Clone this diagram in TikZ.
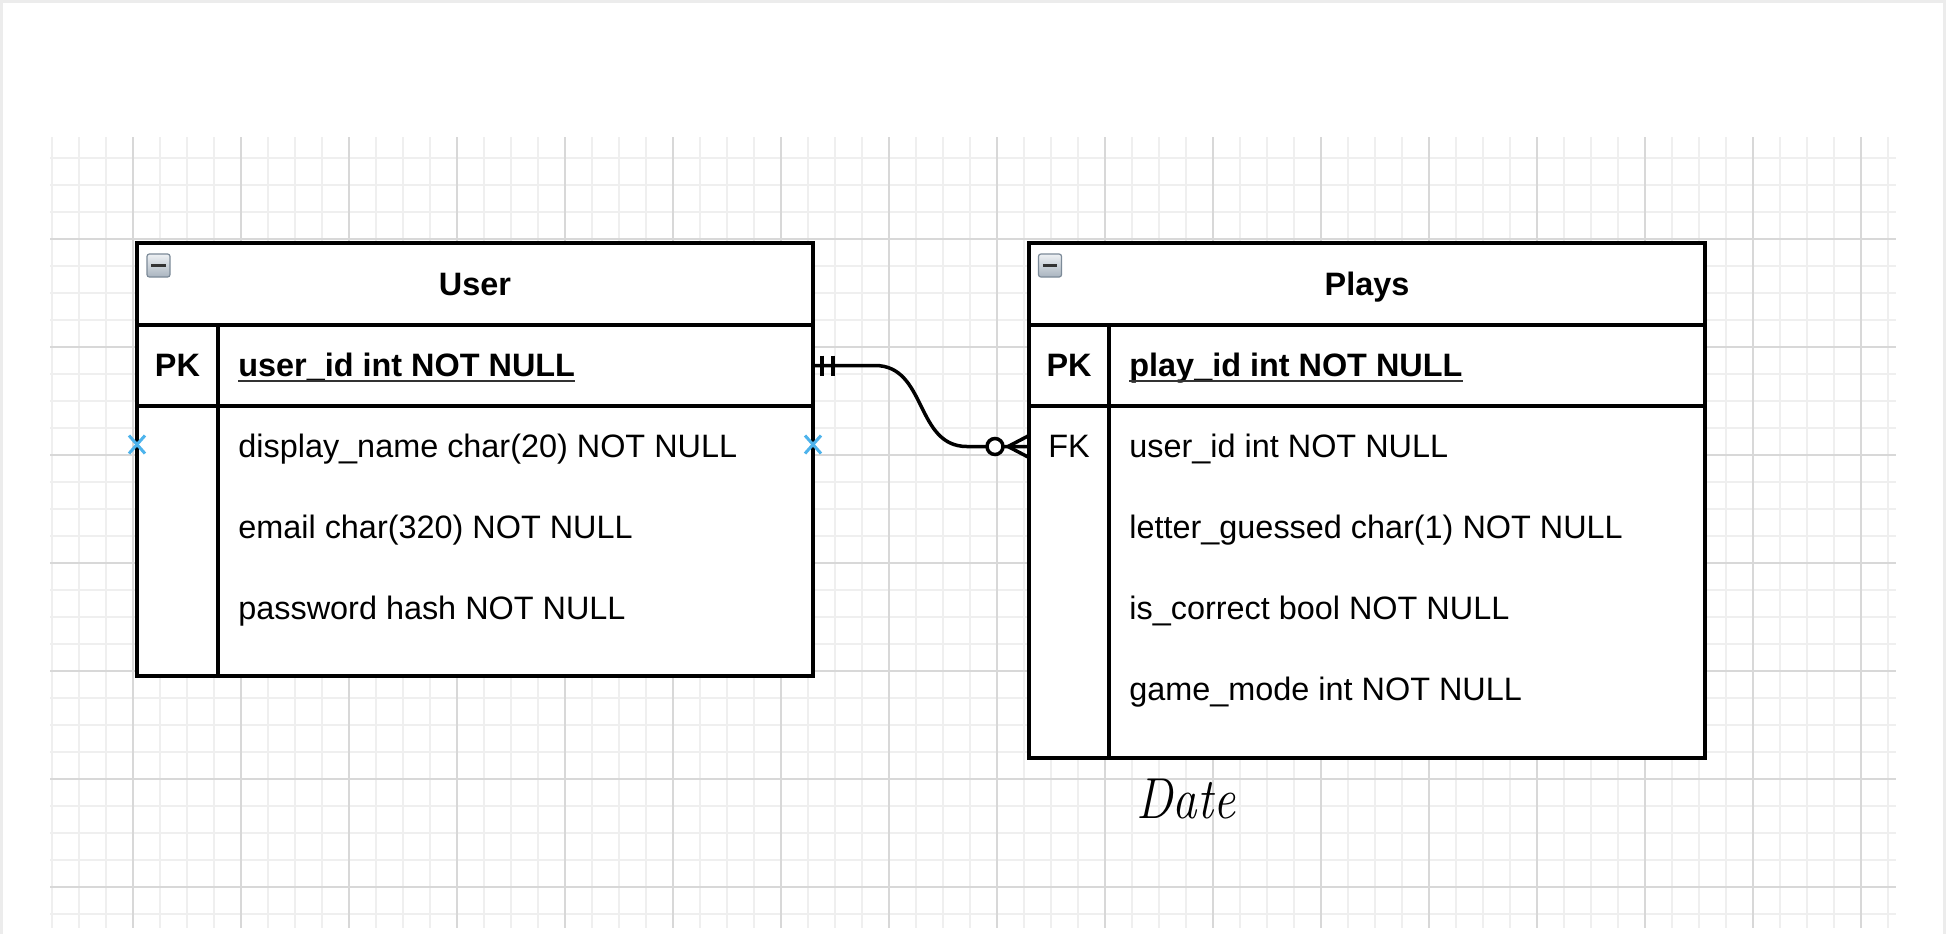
\documentclass[tikz,border=0pt]{standalone}
\usepackage{fontspec}
\newfontfamily\arial{Liberation Sans}
\usetikzlibrary{calc}
\definecolor{minorgrid}{HTML}{EFEFEF}
\definecolor{majorgrid}{HTML}{D8D8D8}
\definecolor{pageframe}{HTML}{ECECEC}
\definecolor{xblue}{HTML}{4DB3EC}
\definecolor{iconedge}{HTML}{7C8A98}
\definecolor{icontop}{HTML}{EEF1F4}
\definecolor{iconbot}{HTML}{A9B4BF}
\tikzset{
  tablebox/.style={draw=black, line width=1.7pt, fill=white, inner sep=0pt, outer sep=0pt, minimum width=338pt},
  tableline/.style={draw=black, line width=1.7pt},
  rowbox/.style={inner sep=0pt, outer sep=0pt, minimum width=338pt, minimum height=40.5pt},
  fieldtxt/.style={anchor=base west, inner sep=0pt, font=\arial\fontsize{16.2}{19}\selectfont},
  pktxt/.style={anchor=base west, inner sep=0pt, font=\arial\fontsize{16.2}{19}\selectfont\bfseries},
  keytxt/.style={anchor=base, inner sep=0pt, font=\arial\fontsize{16.2}{19}\selectfont\bfseries},
  fktxt/.style={anchor=base, inner sep=0pt, font=\arial\fontsize{16.2}{19}\selectfont},
  titletxt/.style={anchor=base, inner sep=0pt, font=\arial\fontsize{16.2}{19}\selectfont\bfseries},
  uline/.style={draw=black!80, line width=0.9pt},
  conn/.style={draw=black, line width=1.75pt},
  xmark/.style={draw=xblue, line width=1.5pt},
  minusicon/.style={draw=iconedge, line width=0.6pt, top color=icontop, bottom color=iconbot,
    rounded corners=1.2pt, minimum size=11.5pt, inner sep=0pt, outer sep=0pt,
    path picture={\draw[line width=1.6pt, black!80] ([xshift=-3.6pt]path picture bounding box.center) -- ([xshift=3.6pt]path picture bounding box.center);}},
  minorline/.style={draw=minorgrid, line width=1pt},
  majorline/.style={draw=majorgrid, line width=1.2pt},
  datetxt/.style={anchor=base west, inner sep=0pt, font=\rmfamily\itshape\fontsize{24.5}{29}\selectfont, yscale=1.18}
}
\begin{document}
\begin{tikzpicture}[x=0.5pt, y=-0.5pt]
\useasboundingbox (0,0) rectangle (1946,934);
\fill[white] (0,0) rectangle (1946,934);
% page frame
\draw[pageframe, line width=1.5pt] (1,934) -- (1,1.5) -- (1944.5,1.5) -- (1944.5,934);
% grid
\foreach \i in {0,...,68} { \draw[minorline] ({52+27*\i},137) -- ({52+27*\i},928); }
\foreach \j in {0,...,28} { \draw[minorline] (50,{158+27*\j}) -- (1896,{158+27*\j}); }
\foreach \i in {0,...,16} { \draw[majorline] ({133+108*\i},137) -- ({133+108*\i},928); }
\foreach \j in {0,...,6} { \draw[majorline] (50,{239+108*\j}) -- (1896,{239+108*\j}); }

% ---------- User table ----------
\node[tablebox, minimum height=216.5pt] (user) at (475,459.5) {};
\draw[tableline] (137,325) -- (813,325);
\draw[tableline] (137,406) -- (813,406);
\draw[tableline] (218,325) -- (218,676);
\node[minusicon] (usericon) at (158.5,265.5) {};
\node[titletxt] (usertitle) at (475,295) {User};
\node[rowbox] (userpk) at (475,365.5) {};
\node[rowbox] (userr1) at (475,446.5) {};
\node[rowbox] (userr2) at (475,527.5) {};
\node[rowbox] (userr3) at (475,608.5) {};
\node[keytxt] (userpkkey) at (177.5,376.5) {PK};
\node[pktxt] (userpkname) at (238,376.5) {user\_id int NOT NULL};
\draw[uline] ([yshift=-2.3pt]userpkname.base west) -- ([yshift=-2.3pt]userpkname.base east);
\node[fieldtxt] (userf1) at (238,457.5) {display\_name char(20) NOT NULL};
\node[fieldtxt] (userf2) at (238,538.5) {email char(320) NOT NULL};
\node[fieldtxt] (userf3) at (238,619.5) {password hash NOT NULL};

% ---------- Plays table ----------
\node[tablebox, minimum height=257.5pt] (plays) at (1367,500.5) {};
\draw[tableline] (1029,325) -- (1705,325);
\draw[tableline] (1029,406) -- (1705,406);
\draw[tableline] (1109,325) -- (1109,758);
\node[minusicon] (playsicon) at (1050,265.5) {};
\node[titletxt] (playstitle) at (1367,295) {Plays};
\node[rowbox] (playspk) at (1367,365.5) {};
\node[rowbox] (playsfk) at (1367,446.5) {};
\node[keytxt] (playspkkey) at (1069,376.5) {PK};
\node[pktxt] (playspkname) at (1129,376.5) {play\_id int NOT NULL};
\draw[uline] ([yshift=-2.3pt]playspkname.base west) -- ([yshift=-2.3pt]playspkname.base east);
\node[fktxt] (playsfkkey) at (1069,457.5) {FK};
\node[fieldtxt] (playsf1) at (1129,457.5) {user\_id int NOT NULL};
\node[fieldtxt] (playsf2) at (1129,538.5) {letter\_guessed char(1) NOT NULL};
\node[fieldtxt] (playsf3) at (1129,619.5) {is\_correct bool NOT NULL};
\node[fieldtxt] (playsf4) at (1129,700.5) {game\_mode int NOT NULL};

% ---------- connector ----------
\draw[conn] (userpk.east) -- ++(62,0) .. controls +(52,0) and +(-52,0) .. ($(playsfk.west)+(-62,0)$) -- (playsfk.west);
\draw[conn] ($(userpk.east)+(9,-10)$) -- ($(userpk.east)+(9,10)$);
\draw[conn] ($(userpk.east)+(20,-10)$) -- ($(userpk.east)+(20,10)$);
\draw[conn, fill=white] ($(playsfk.west)+(-34,0)$) circle[radius=4pt];
\draw[conn] ($(playsfk.west)+(-21,0)$) -- ($(playsfk.west)+(0,-11)$);
\draw[conn] ($(playsfk.west)+(-21,0)$) -- ($(playsfk.west)+(0,11)$);

% ---------- connection-point marks ----------
\draw[xmark] ($(userr1.west)+(-8,-11)$) -- ($(userr1.west)+(8,7)$);
\draw[xmark] ($(userr1.west)+(-8,7)$) -- ($(userr1.west)+(8,-11)$);
\draw[xmark] ($(userr1.east)+(-8,-11)$) -- ($(userr1.east)+(8,7)$);
\draw[xmark] ($(userr1.east)+(-8,7)$) -- ($(userr1.east)+(8,-11)$);

% ---------- handwritten note ----------
\node[datetxt] (date) at (1136,818) {Date};
\end{tikzpicture}
\end{document}
